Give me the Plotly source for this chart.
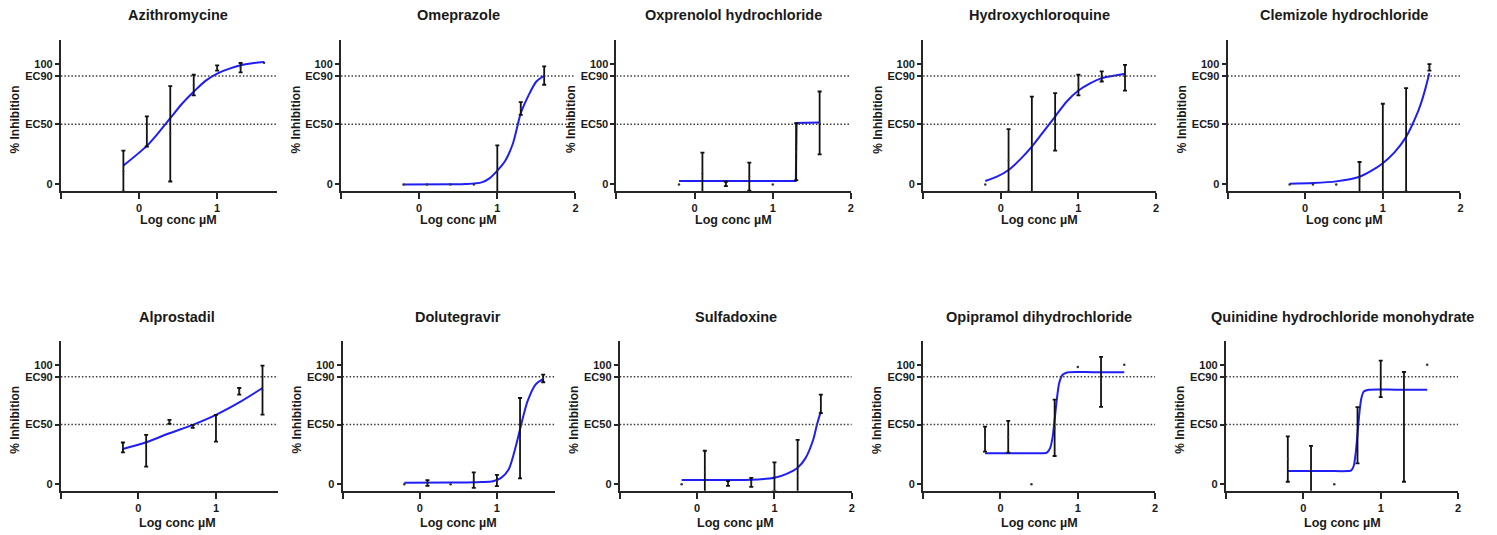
import plotly.graph_objects as go

# ---------------- data ----------------
drugs = ["Azithromycine", "Omeprazole", "Oxprenolol hydrochloride", "Hydroxychloroquine",
         "Clemizole hydrochloride", "Alprostadil", "Dolutegravir", "Sulfadoxine",
         "Opipramol dihydrochloride", "Quinidine hydrochloride monohydrate"]

log_conc = [-0.2, 0.1, 0.4, 0.7, 1.0, 1.3, 1.6]

inhibition_mean = [
    [11, 44, 42, 82.5, 96.7, 97, 101],
    [0, 0, 0, 0, 11.4, 63, 90.4],
    [0, 9, 0.4, 6.4, 0, 27.2, 51.1],
    [0, 20, 33, 52, 82.5, 89.7, 88.7],
    [0, 0, 0, 6, 30, 37, 97.3],
    [30.8, 28, 52.2, 48.3, 46.9, 77.8, 78.8],
    [0, 1, 0, 3.4, 3, 38.5, 88.6],
    [0, 10, 0.6, 1.5, 6.2, 13.5, 67.3],
    [37.7, 39.7, 0, 47.2, 98.3, 85.7, 100],
    [21, 12, 0, 41, 88.3, 48, 100],
]

inhibition_sd = [
    [17, 12.5, 39.6, 8.6, 2.2, 3.9, 0],
    [0, 0, 0, 0, 21, 5.3, 7.6],
    [0, 17.4, 1.8, 11.7, 0, 23.6, 26.1],
    [0, 26, 40, 23.9, 8.6, 4.2, 10.7],
    [0, 0, 0, 12.6, 37, 43, 2.7],
    [4.1, 13.3, 1.7, 1.1, 11.2, 2.8, 20.6],
    [0, 2.4, 0, 6.5, 4.7, 33.7, 3.2],
    [0, 18, 2, 3.8, 12.1, 23.6, 7.7],
    [10.5, 13.3, 0, 23.6, 0, 21, 0],
    [19, 20, 0, 23.6, 15.3, 46, 0],
]

# fitted curves
fit_x = [
    [-0.2, 0.1, 0.25, 0.4, 0.55, 0.7, 0.85, 1.0, 1.15, 1.3, 1.45, 1.6],
    [-0.2, 0.4, 0.6, 0.8, 0.9, 1.0, 1.1, 1.2, 1.3, 1.4, 1.5, 1.6],
    [-0.2, 1.295, 1.305, 1.6],
    [-0.2, -0.05, 0.1, 0.25, 0.4, 0.55, 0.7, 0.85, 1.0, 1.15, 1.3, 1.45, 1.6],
    [-0.2, 0.1, 0.4, 0.7, 0.85, 1.0, 1.15, 1.3, 1.45, 1.5, 1.55, 1.6],
    [-0.2, 0.1, 0.4, 0.7, 1.0, 1.3, 1.6],
    [-0.2, 0.4, 0.8, 0.95, 1.05, 1.15, 1.25, 1.3, 1.35, 1.4, 1.5, 1.6],
    [-0.2, 0.4, 0.7, 1.0, 1.15, 1.3, 1.4, 1.5, 1.55, 1.6],
    [-0.2, 0.3, 0.55, 0.6, 0.64, 0.67, 0.7, 0.73, 0.76, 0.8, 0.86, 1.2, 1.6],
    [-0.2, 0.3, 0.58, 0.62, 0.65, 0.675, 0.7, 0.725, 0.75, 0.78, 0.83, 1.2, 1.6],
]
fit_y = [
    [15.6, 32, 43, 55, 67, 77, 86, 92, 96, 99, 100.7, 101.7],
    [0, 0.1, 0.3, 1.7, 5, 11.4, 19.4, 34, 59, 74, 85.5, 90.3],
    [2.8, 2.8, 51, 51.5],
    [2.8, 6.4, 12, 20.8, 31.4, 43.9, 56.4, 68.9, 78, 84, 88.3, 90.3, 92],
    [0.6, 1.1, 2.5, 6.4, 11.2, 17.6, 26.6, 39.5, 60, 69, 80, 92.5],
    [29.5, 35.1, 42.7, 49.7, 58.1, 68.5, 80.6],
    [1.1, 1.3, 1.8, 2.5, 5, 12, 33, 46, 59, 70, 83.4, 88.2],
    [3.4, 3.4, 3.6, 5.3, 8.4, 13.8, 21.6, 37, 50, 61],
    [25.9, 25.9, 25.9, 26.5, 30, 38, 54, 72, 85, 91.5, 93.6, 93.8, 93.8],
    [11, 11, 11, 11.5, 15, 25, 42, 60, 72, 77.5, 79, 79.2, 79.2],
]
step_curve = [False, False, True, False, False, False, False, False, False, False]

y_tick_vals = [0, 50, 90, 100]
y_tick_text = ["0", "EC50", "EC90", "100"]
x_tick_vals = [-1, 0, 1, 2]
x_tick_text = ["", "0", "1", "2"]
ref_lines = [50, 90]

# ---------------- layout geometry ----------------
W, H = 1497, 535
panel_left_px = [61, 341.7, 617.7, 925, 1230, 61, 343.3, 621, 925, 1228.3]
x_range_end = [1.77, 2, 2, 2, 2, 1.8, 1.75, 2, 2, 2]
unit_px = [78.3, 78.3, 78.3, 77.8, 77.8, 77.7, 77.3, 77.5, 77.5, 77.6]
row_top_px = [40, 341]
row_bot_px = [191, 490.7]
title_y_px = [15, 316.7]
xtitle_y_px = [220, 522.7]
y_range = [-5.5, 120]

FONT = "Liberation Sans, Arial, sans-serif"
AX = "#262626"
BLUE = "#1f1ff5"

fig = go.Figure()
annotations = []

for i, name in enumerate(drugs):
    row = 0 if i < 5 else 1
    xa = "x" if i == 0 else f"x{i+1}"
    ya = "y" if i == 0 else f"y{i+1}"
    end = x_range_end[i]
    left = panel_left_px[i]
    right = left + unit_px[i] * (end + 1)

    # fitted curve
    fig.add_trace(go.Scatter(
        x=fit_x[i], y=fit_y[i], mode="lines", xaxis=xa, yaxis=ya,
        line=dict(color=BLUE, width=2,
                  shape="linear" if step_curve[i] else "spline",
                  smoothing=0.8 if not step_curve[i] else None),
        showlegend=False, hoverinfo="skip"))

    # EC50 / EC90 reference lines
    for v in ref_lines:
        fig.add_trace(go.Scatter(
            x=[-1, end], y=[v, v], mode="lines", xaxis=xa, yaxis=ya,
            line=dict(color="#3a3a3a", width=1.5, dash="1.5px,2px"),
            showlegend=False, hoverinfo="skip"))

    # data points: with SD error bars, and bare points where SD is zero
    idx_bar = [k for k, s in enumerate(inhibition_sd[i]) if s > 0]
    idx_dot = [k for k, s in enumerate(inhibition_sd[i]) if s <= 0]
    fig.add_trace(go.Scatter(
        x=[log_conc[k] for k in idx_bar], y=[inhibition_mean[i][k] for k in idx_bar],
        mode="markers", xaxis=xa, yaxis=ya,
        marker=dict(color="#333333", size=2),
        error_y=dict(type="data", array=[inhibition_sd[i][k] for k in idx_bar],
                     visible=True, color="#111111", thickness=1.8, width=2),
        showlegend=False, cliponaxis=False))
    if idx_dot:
        fig.add_trace(go.Scatter(
            x=[log_conc[k] for k in idx_dot], y=[inhibition_mean[i][k] for k in idx_dot],
            mode="markers", xaxis=xa, yaxis=ya,
            marker=dict(color="#333333", size=2.5),
            showlegend=False, cliponaxis=False))

    tv = [v for v in x_tick_vals if v <= end + 1e-9]
    tt = x_tick_text[:len(tv)]
    fig.layout[("xaxis" if i == 0 else f"xaxis{i+1}")] = dict(
        domain=[left / W, right / W], range=[-1, end], anchor=ya,
        showline=True, linecolor=AX, linewidth=2, mirror=False,
        ticks="outside", ticklen=6, tickwidth=1.8, tickcolor=AX,
        tickvals=tv, ticktext=tt, showgrid=False, zeroline=False,
        tickfont=dict(family=FONT, size=11, color="#1a1a1a", weight="bold"),
        fixedrange=True)
    fig.layout[("yaxis" if i == 0 else f"yaxis{i+1}")] = dict(
        domain=[1 - row_bot_px[row] / H, 1 - row_top_px[row] / H],
        range=y_range, anchor=xa,
        showline=True, linecolor=AX, linewidth=2,
        ticks="outside", ticklen=4, tickwidth=1.8, tickcolor=AX,
        tickvals=y_tick_vals, ticktext=y_tick_text, showgrid=False, zeroline=False,
        tickfont=dict(family=FONT, size=11, color="#1a1a1a", weight="bold"),
        fixedrange=True)

    # title
    annotations.append(dict(
        text=name, xref=xa, yref="paper", x=0.5, y=1 - title_y_px[row] / H,
        xanchor="center", yanchor="middle", showarrow=False,
        font=dict(family=FONT, size=14.5, color="#1a1a1a", weight="bold")))
    # x axis title
    annotations.append(dict(
        text="Log conc µM", xref=xa, yref="paper", x=0.5, y=1 - xtitle_y_px[row] / H,
        xanchor="center", yanchor="middle", showarrow=False,
        font=dict(family=FONT, size=12.5, color="#1a1a1a", weight="bold")))
    # y axis title
    yc_px = (row_top_px[row] + row_bot_px[row]) / 2 + 4
    annotations.append(dict(
        text="% Inhibition", xref="paper", yref="paper",
        x=(left - 46) / W, y=1 - yc_px / H, textangle=-90,
        xanchor="center", yanchor="middle", showarrow=False,
        font=dict(family=FONT, size=12, color="#1a1a1a", weight="bold")))

fig.update_layout(
    width=W, height=H, margin=dict(l=0, r=0, t=0, b=0),
    paper_bgcolor="white", plot_bgcolor="white",
    annotations=annotations, showlegend=False)

fig.write_html("out.html", config={"displayModeBar": False},
               post_script="document.body.style.margin='0';document.body.style.overflow='hidden';")
